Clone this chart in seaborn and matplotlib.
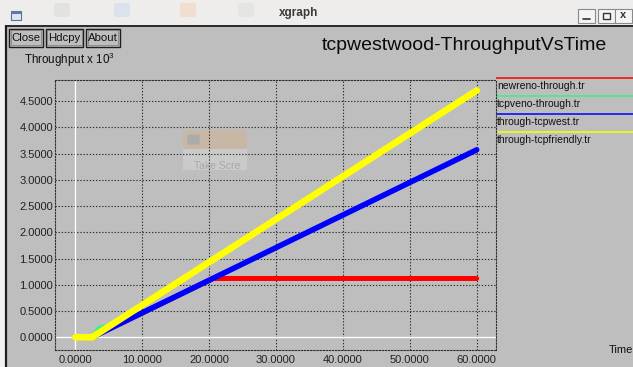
import matplotlib
matplotlib.use("Agg")
import matplotlib.pyplot as plt
import seaborn as sns
import pandas as pd
from matplotlib.patches import Rectangle, FancyBboxPatch

# Throughput traces (x 10^3) against simulation time
series_names = ["newreno-through.tr", "tcpveno-through.tr",
                "through-tcpwest.tr", "through-tcpfriendly.tr"]
series_colors = ["#ff0000", "#2cf58c", "#0000ff", "#ffff00"]

newreno_time = [0.0, 2.5, 20.6, 60.0]
newreno_tput = [0.0, 0.0, 1.12, 1.12]

veno_time = [0.0, 2.5, 3.6, 5.0, 60.0]
veno_tput = [0.0, 0.0, 0.17, 0.21, 4.69]

westwood_time = [0.0, 2.5, 60.0]
westwood_tput = [0.0, 0.0, 3.57]

friendly_time = [0.0, 2.5, 60.0]
friendly_tput = [0.0, 0.0, 4.70]

x_ticks = [0, 10, 20, 30, 40, 50, 60]
y_ticks = [0.0, 0.5, 1.0, 1.5, 2.0, 2.5, 3.0, 3.5, 4.0, 4.5]

chart_title = "tcpwestwood-ThroughputVsTime"
x_label = "Time"
y_label = "Throughput x 10$^{3}$"

sns.set_style("white")
plt.rcParams["font.family"] = ["Liberation Sans", "DejaVu Sans"]
plt.rcParams["mathtext.fontset"] = "custom"
plt.rcParams["mathtext.rm"] = "Liberation Sans"
plt.rcParams["mathtext.default"] = "rm"

W, H = 633, 367
fig = plt.figure(figsize=(W / 100, H / 100), dpi=100)
fig.patch.set_facecolor("#efeeec")

# window chrome layer in pixel coordinates
ov = fig.add_axes([0, 0, 1, 1], zorder=0)
ov.set_xlim(0, W)
ov.set_ylim(H, 0)
ov.axis("off")

GRAY = "#bebebe"
DARK = "#1e1e1e"
ov.add_patch(Rectangle((6, 25), W - 6, H - 25, facecolor=GRAY, edgecolor="none"))
ov.add_patch(Rectangle((0, 0), W, 25, facecolor="#eeedeb", edgecolor="none"))
ov.add_patch(Rectangle((0, 25), 6, H - 25, facecolor="#f3f2f0", edgecolor="none"))
# faded desktop icons behind the title bar
for cx, col in [(62, "#dedede"), (122, "#d3dcee"), (188, "#f3d9c6"), (246, "#e2e2e2")]:
    ov.add_patch(FancyBboxPatch((cx - 6, 5), 12, 10, boxstyle="round,pad=2",
                                facecolor=col, edgecolor="none", alpha=0.7))
ov.plot([6, 6], [25, H], color=DARK, lw=1.6, solid_capstyle="butt")
ov.plot([6, W], [25.5, 25.5], color=DARK, lw=1.3, solid_capstyle="butt")
# window icon and name
ov.add_patch(Rectangle((11, 11), 10, 9, facecolor="#dfe6f2", edgecolor="#5a6f9a", lw=0.8))
ov.add_patch(Rectangle((11, 11), 10, 2.5, facecolor="#5a7ab8", edgecolor="none"))
ov.text(299, 13, "xgraph", fontsize=8.5, fontweight="bold", color="#3a3a3a",
        ha="center", va="center")
# minimise / maximise / close boxes
for x0 in [578, 598, 615]:
    ov.add_patch(Rectangle((x0, 8.5), 17, 14, facecolor="#f4f4f4",
                           edgecolor="#8a8a8a", lw=0.8))
ov.plot([583, 590], [19, 19], color="#333333", lw=1.2)
ov.add_patch(Rectangle((602.5, 12.5), 7, 6, facecolor="none", edgecolor="#333333", lw=1.0))
ov.text(623.5, 15.5, "x", fontsize=8, fontweight="bold", color="#333333",
        ha="center", va="center")

# xgraph buttons
for (x0, x1), lab in zip([(9, 42.5), (45.5, 83), (86, 119.5)], ["Close", "Hdcpy", "About"]):
    ov.add_patch(Rectangle((x0, 28.5), x1 - x0, 18, facecolor=GRAY,
                           edgecolor=DARK, lw=1.0))
    ov.add_patch(Rectangle((x0 + 1.5, 30), x1 - x0 - 3, 15, facecolor="none",
                           edgecolor="#7a7a7a", lw=0.5))
    ov.text((x0 + x1) / 2, 38, lab, fontsize=8.2, color="#111111",
            ha="center", va="center")

# faded screenshot-tool popup left on the canvas
ov.add_patch(FancyBboxPatch((183, 130), 64, 19, boxstyle="round,pad=0,rounding_size=3",
                            facecolor="#cbb59c", edgecolor="none", alpha=0.75))
ov.add_patch(Rectangle((183, 149), 64, 21, facecolor="#cdcdcd", edgecolor="none", alpha=0.85))
ov.add_patch(FancyBboxPatch((188, 135), 11, 9, boxstyle="round,pad=0.5",
                            facecolor="#ababab", edgecolor="none"))
ov.text(194, 166, "Take Scre", fontsize=7.5, color="#a8a8a8", ha="left", va="center")

ov.text(322, 45, chart_title, fontsize=14, color="#0a0a0a", ha="left", va="center")
ov.text(24, 60, y_label, fontsize=8.4, color="#111111", ha="left", va="center")
ov.text(609, 350, x_label, fontsize=8, color="#111111", ha="left", va="center")

# legend strip on the right
for i, (name, col) in enumerate(zip(series_names, series_colors)):
    yl = 78 + 18 * i
    ov.plot([496, W], [yl, yl], color=col, lw=1.1, solid_capstyle="butt")
    ov.text(497, yl + 8, name, fontsize=7.5, color="#111111", ha="left", va="center")

# plotting area
L, R, T, B = 55, 496, 80, 350
ax = fig.add_axes([L / W, 1 - B / H, (R - L) / W, (B - T) / H], zorder=1)
ax.set_facecolor("none")

x0_px, x60_px = 75.3, 476.7
y0_px, y45_px = 337.3, 101.0
sx = (x60_px - x0_px) / 60.0
sy = (y0_px - y45_px) / 4.5
ax.set_xlim((L - x0_px) / sx, (R - x0_px) / sx)
ax.set_ylim((y0_px - B) / sy, (y0_px - T) / sy)

dot = (0, (1.2, 1.6))
ax.grid(True, linestyle=dot, color="#2e2e2e", lw=0.8)
for sp in ax.spines.values():
    sp.set_visible(True)
    sp.set_linestyle(dot)
    sp.set_color("#2e2e2e")
    sp.set_linewidth(0.8)
ax.axhline(0, color="white", lw=1.0, zorder=1.5)
ax.axvline(0, color="white", lw=1.0, zorder=1.5)

traces = [(newreno_time, newreno_tput, 3.6), (veno_time, veno_tput, 3.6),
          (westwood_time, westwood_tput, 4.0), (friendly_time, friendly_tput, 4.8)]
for (t, v, lw), name, col in zip(traces, series_names, series_colors):
    df = pd.DataFrame({"time": t, "throughput": v})
    sns.lineplot(data=df, x="time", y="throughput", color=col, lw=lw, ax=ax,
                 solid_capstyle="round", zorder=3, estimator=None)

ax.set_xticks(x_ticks)
ax.set_xticklabels([f"{v:.4f}" for v in x_ticks])
ax.set_yticks(y_ticks)
ax.set_yticklabels([f"{v:.4f}" for v in y_ticks])
ax.tick_params(axis="x", length=0, pad=3.6, labelsize=8, labelcolor="#222222")
ax.tick_params(axis="y", length=0, pad=1.4, labelsize=8, labelcolor="#222222")
ax.set_xlabel("")
ax.set_ylabel("")

fig.savefig("out.png", dpi=100, facecolor=fig.get_facecolor())
